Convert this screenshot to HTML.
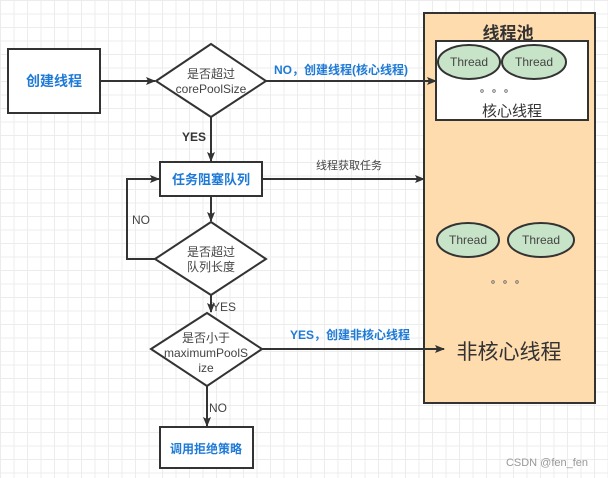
<!DOCTYPE html>
<html><head><meta charset="utf-8"><style>
body{margin:0;width:608px;height:478px;overflow:hidden;background:#fff;
background-image:linear-gradient(#ececec 1px,transparent 1px),linear-gradient(90deg,#ececec 1px,transparent 1px);background-size:13.5px 13.5px;}
svg{position:absolute;left:0;top:0}
text{font-family:"Liberation Sans","Noto Sans CJK SC",sans-serif}
</style></head><body>
<svg width="608" height="478" viewBox="0 0 608 478">
<defs><marker id="a" markerWidth="10" markerHeight="8" refX="9" refY="4" orient="auto" markerUnits="userSpaceOnUse"><path d="M0,0 L10,4 L0,8 L2,4 z" fill="#333"/></marker></defs>
<g stroke="#333" stroke-width="2" fill="#fff">
<rect x="8" y="49" width="92" height="64"/>
<polygon points="156,81 211,44 266,81 211,117"/>
<rect x="160" y="162" width="102" height="34"/>
<polygon points="155,259 211,222 266,259 211,295"/>
<polygon points="151,349 207,313 262,349 207,386"/>
<rect x="160" y="427" width="93" height="41"/>
<rect x="424" y="13" width="171" height="390" fill="#ffdcae"/>
<rect x="436" y="41" width="152" height="79" fill="#fff"/>
<ellipse cx="469" cy="62" rx="31" ry="17" fill="#c8e4c8"/>
<ellipse cx="534" cy="62" rx="32" ry="17" fill="#c8e4c8"/>
<ellipse cx="468" cy="240" rx="31" ry="17" fill="#c8e4c8"/>
<ellipse cx="541" cy="240" rx="33" ry="17" fill="#c8e4c8"/>
</g>
<g fill="none" stroke="#666" stroke-width="0.8">
<circle cx="482" cy="91" r="1.3"/><circle cx="494" cy="91" r="1.3"/><circle cx="506" cy="91" r="1.3"/>
<circle cx="493" cy="282" r="1.3"/><circle cx="505" cy="282" r="1.3"/><circle cx="517" cy="282" r="1.3"/>
</g>
<g stroke="#333" stroke-width="2" fill="none" marker-end="url(#a)">
<line x1="100" y1="81" x2="155" y2="81"/>
<line x1="266" y1="81" x2="436" y2="81"/>
<line x1="211" y1="117" x2="211" y2="161"/>
<line x1="262" y1="179" x2="424" y2="179"/>
<line x1="211" y1="196" x2="211" y2="221"/>
<polyline points="155,259 127,259 127,179 159,179"/>
<line x1="211" y1="295" x2="211" y2="312"/>
<line x1="262" y1="349" x2="444" y2="349"/>
<line x1="207" y1="386" x2="207" y2="426"/>
</g>
<g font-size="13" text-anchor="middle">
<text x="54" y="86" fill="#1e7ad6" font-weight="bold" font-size="14">创建线程</text>
<text x="211" y="78" fill="#444" font-size="12">是否超过</text>
<text x="211" y="93" fill="#444" font-size="12">corePoolSize</text>
<text x="211" y="184" fill="#1e7ad6" font-weight="bold">任务阻塞队列</text>
<text x="211" y="256" fill="#444" font-size="12">是否超过</text>
<text x="211" y="271" fill="#444" font-size="12">队列长度</text>
<text x="206" y="342" fill="#444" font-size="12">是否小于</text>
<text x="206" y="357" fill="#444" font-size="12">maximumPoolS</text>
<text x="206" y="372" fill="#444" font-size="12">ize</text>
<text x="206" y="453" fill="#1e7ad6" font-weight="bold" font-size="12">调用拒绝策略</text>
<text x="341" y="74" fill="#1e7ad6" font-weight="bold" font-size="12">NO，创建线程(核心线程)</text>
<text x="194" y="141" fill="#333" font-weight="bold" font-size="12">YES</text>
<text x="349" y="169" fill="#444" font-size="11">线程获取任务</text>
<text x="141" y="224" fill="#444" font-size="12">NO</text>
<text x="224" y="311" fill="#444" font-size="12">YES</text>
<text x="350" y="339" fill="#1e7ad6" font-weight="bold" font-size="12">YES，创建非核心线程</text>
<text x="218" y="412" fill="#444" font-size="12">NO</text>
<text x="508" y="39" fill="#333" font-weight="bold" font-size="17">线程池</text>
<text x="469" y="66" fill="#444" font-size="12">Thread</text>
<text x="534" y="66" fill="#444" font-size="12">Thread</text>
<text x="468" y="244" fill="#444" font-size="12">Thread</text>
<text x="541" y="244" fill="#444" font-size="12">Thread</text>
<text x="512" y="116" fill="#333" font-size="15">核心线程</text>
<text x="509" y="359" fill="#333" font-size="21">非核心线程</text>
<text x="547" y="466" fill="#999" font-size="11">CSDN @fen_fen</text>
</g>
</svg>
</body></html>
